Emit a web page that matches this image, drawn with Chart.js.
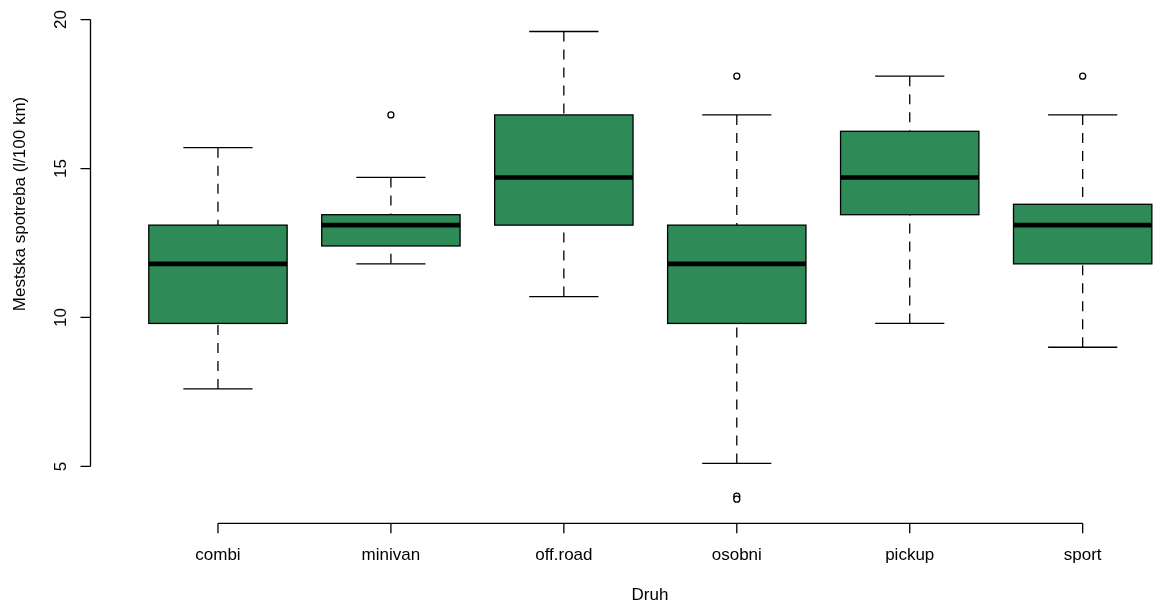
<!DOCTYPE html>
<html>
<head>
<meta charset="utf-8">
<script src="https://cdn.jsdelivr.net/npm/chart.js@4.4.1/dist/chart.umd.min.js"></script>
<style>
    html, body { margin: 0; padding: 0; background: #ffffff; overflow: hidden; }
    #wrap { width: 1156px; height: 607px; position: relative; }
</style>
</head>
<body>
<div id="wrap"><canvas id="boxChart"></canvas></div>
<script>
// box statistics
const categories = ['combi', 'minivan', 'off.road', 'osobni', 'pickup', 'sport'];
const whiskerLow = [7.6, 11.8, 10.7, 5.1, 9.8, 9.0];
const lowerHinge = [9.8, 12.4, 13.1, 9.8, 13.45, 11.8];
const medians = [11.8, 13.1, 14.7, 11.8, 14.7, 13.1];
const upperHinge = [13.1, 13.45, 16.8, 13.1, 16.25, 13.8];
const whiskerHigh = [15.7, 14.7, 19.6, 16.8, 18.1, 16.8];
const outlierGroup = [2, 4, 4, 4, 6];
const outlierValue = [16.8, 18.1, 4.0, 3.9, 18.1];
const yTicks = [5, 10, 15, 20];

const yTitle = 'Mestska spotreba (l/100 km)';
const xTitle = 'Druh';

const FONT = '17px "Liberation Sans", Arial, Helvetica, sans-serif';
const BOX_FILL = '#2E8B57';

const boxPlugin = {
    id: 'rBoxplot',
    beforeDatasetsDraw(chart) {
        const ctx = chart.ctx;
        const x = chart.scales.x;
        const y = chart.scales.y;
        const unit = x.getPixelForValue(1) - x.getPixelForValue(0);
        const half = 0.4 * unit;
        const capHalf = 0.2 * unit;

        ctx.save();
        ctx.strokeStyle = '#000';
        categories.forEach((name, i) => {
            const cx = x.getPixelForValue(i + 1);
            const yLo = y.getPixelForValue(whiskerLow[i]);
            const yQ1 = y.getPixelForValue(lowerHinge[i]);
            const yMed = y.getPixelForValue(medians[i]);
            const yQ3 = y.getPixelForValue(upperHinge[i]);
            const yHi = y.getPixelForValue(whiskerHigh[i]);

            // whiskers, drawn from the cap towards the box
            ctx.lineWidth = 1.3;
            ctx.setLineDash([10, 8]);
            ctx.beginPath();
            ctx.moveTo(cx, yHi);
            ctx.lineTo(cx, yQ3);
            ctx.moveTo(cx, yLo);
            ctx.lineTo(cx, yQ1);
            ctx.stroke();
            ctx.setLineDash([]);

            // caps
            ctx.beginPath();
            ctx.moveTo(cx - capHalf, yHi);
            ctx.lineTo(cx + capHalf, yHi);
            ctx.moveTo(cx - capHalf, yLo);
            ctx.lineTo(cx + capHalf, yLo);
            ctx.stroke();

            // box
            ctx.fillStyle = BOX_FILL;
            ctx.fillRect(cx - half, yQ3, 2 * half, yQ1 - yQ3);
            ctx.strokeRect(cx - half, yQ3, 2 * half, yQ1 - yQ3);

            // median
            ctx.lineWidth = 4.6;
            ctx.beginPath();
            ctx.moveTo(cx - half, yMed);
            ctx.lineTo(cx + half, yMed);
            ctx.stroke();
        });
        ctx.restore();
    },
    afterDraw(chart) {
        const ctx = chart.ctx;
        const x = chart.scales.x;
        const y = chart.scales.y;
        const area = chart.chartArea;
        const tick = 10;

        ctx.save();
        ctx.strokeStyle = '#000';
        ctx.fillStyle = '#000';
        ctx.lineWidth = 1.3;
        ctx.font = FONT;

        // y axis
        const ax = area.left;
        const yTop = y.getPixelForValue(yTicks[yTicks.length - 1]);
        const yBot = y.getPixelForValue(yTicks[0]);
        ctx.beginPath();
        ctx.moveTo(ax, yTop);
        ctx.lineTo(ax, yBot);
        yTicks.forEach(v => {
            const py = y.getPixelForValue(v);
            ctx.moveTo(ax - tick, py);
            ctx.lineTo(ax, py);
        });
        ctx.stroke();
        ctx.textAlign = 'center';
        ctx.textBaseline = 'middle';
        yTicks.forEach(v => {
            const py = y.getPixelForValue(v);
            ctx.save();
            ctx.translate(ax - 29, py);
            ctx.rotate(-Math.PI / 2);
            ctx.fillText(String(v), 0, 0);
            ctx.restore();
        });

        // x axis
        const ay = area.bottom;
        const xL = x.getPixelForValue(1);
        const xR = x.getPixelForValue(categories.length);
        ctx.beginPath();
        ctx.moveTo(xL, ay);
        ctx.lineTo(xR, ay);
        categories.forEach((name, i) => {
            const px = x.getPixelForValue(i + 1);
            ctx.moveTo(px, ay);
            ctx.lineTo(px, ay + tick);
        });
        ctx.stroke();
        categories.forEach((name, i) => {
            ctx.fillText(name, x.getPixelForValue(i + 1), ay + 32);
        });

        // axis titles
        ctx.fillText(xTitle, 650, ay + 72);
        ctx.save();
        ctx.translate(20, 204);
        ctx.rotate(-Math.PI / 2);
        ctx.fillText(yTitle, 0, 0);
        ctx.restore();

        ctx.restore();
    }
};

const outlierPoints = outlierGroup.map((g, i) => ({ x: g, y: outlierValue[i] }));

new Chart(document.getElementById('boxChart'), {
    type: 'scatter',
    data: {
        datasets: [{
            label: 'outliers',
            data: outlierPoints,
            pointStyle: 'circle',
            pointRadius: 3,
            pointBorderWidth: 1.3,
            pointBorderColor: '#000',
            pointBackgroundColor: '#fff'
        }]
    },
    options: {
        responsive: true,
        maintainAspectRatio: false,
        animation: false,
        layout: { autoPadding: false, padding: { left: 90.5, right: 0, top: 12.75, bottom: 83.7 } },
        plugins: {
            legend: { display: false },
            tooltip: { enabled: false }
        },
        scales: {
            x: { type: 'linear', display: false, min: 0.263, max: 6.424 },
            y: { type: 'linear', display: false, min: 3.09, max: 20.23 }
        }
    },
    plugins: [boxPlugin]
});
</script>
</body>
</html>
